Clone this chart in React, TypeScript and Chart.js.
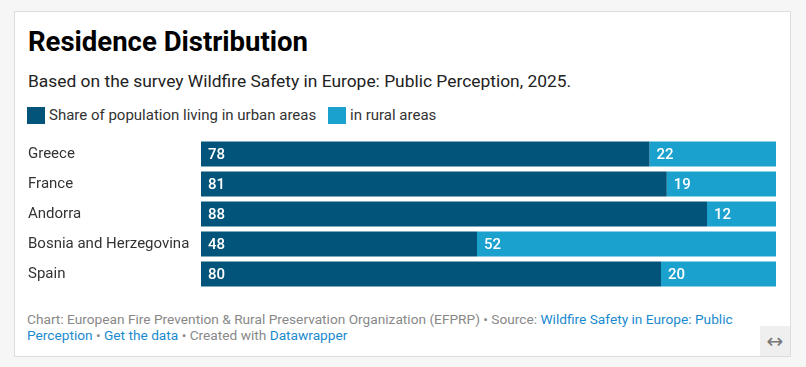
import React, { useEffect, useRef } from "react";
import { Chart, registerables } from "chart.js";

Chart.register(...registerables);

const categories = ["Greece", "France", "Andorra", "Bosnia and Herzegovina", "Spain"];
const urban = [78, 81, 88, 48, 80];
const rural = [22, 19, 12, 52, 20];
const seriesNames = ["Share of population living in urban areas", "in rural areas"];
const colors = ["#03547a", "#1aa1ce"];

const FONT = "Roboto, 'Noto Sans', sans-serif";

const valueLabels = {
  id: "valueLabels",
  afterDatasetsDraw(chart: any) {
    const ctx = chart.ctx;
    ctx.save();
    ctx.font = `500 15px ${FONT}`;
    ctx.fillStyle = "#ffffff";
    ctx.textBaseline = "middle";
    ctx.textAlign = "left";
    chart.data.datasets.forEach((ds: any, di: number) => {
      const meta = chart.getDatasetMeta(di);
      meta.data.forEach((el: any, i: number) => {
        const start = Math.min(el.base, el.x);
        ctx.fillText(String(ds.data[i]), start + 7, el.y + 1);
      });
    });
    ctx.restore();
  },
};

function BarChart() {
  const ref = useRef<HTMLCanvasElement | null>(null);
  useEffect(() => {
    if (!ref.current) return;
    const chart = new Chart(ref.current, {
      type: "bar",
      data: {
        labels: categories,
        datasets: [
          { label: seriesNames[0], data: urban, backgroundColor: colors[0], barPercentage: 25 / 30, categoryPercentage: 1 },
          { label: seriesNames[1], data: rural, backgroundColor: colors[1], barPercentage: 25 / 30, categoryPercentage: 1 },
        ],
      },
      options: {
        indexAxis: "y",
        responsive: false,
        animation: false,
        devicePixelRatio: 1,
        layout: { padding: 0 },
        plugins: { legend: { display: false }, tooltip: { enabled: false } },
        scales: {
          x: { stacked: true, min: 0, max: 100, display: false },
          y: {
            stacked: true,
            grid: { display: false, drawTicks: false },
            border: { display: false },
            ticks: {
              crossAlign: "far",
              color: "#333333",
              font: { family: FONT, size: 15 },
              padding: 0,
            },
            afterFit: (scale: any) => {
              scale.width = 173;
              scale.paddingTop = 0;
              scale.paddingBottom = 0;
            },
          },
        },
      },
      plugins: [valueLabels],
    });
    return () => chart.destroy();
  }, []);
  return (
    <canvas
      ref={ref}
      width={748}
      height={150}
      style={{ position: "absolute", left: 28, top: 139, width: 748, height: 150 }}
    />
  );
}

export default function App() {
  const link = { color: "#1a8acf", textDecoration: "none" };
  return (
    <div
      style={{
        position: "fixed",
        left: 0,
        top: 0,
        width: 806,
        height: 367,
        background: "#f6f6f6",
        fontFamily: FONT,
        overflow: "hidden",
      }}
    >
      <div
        style={{
          position: "absolute",
          left: 14,
          top: 11,
          width: 775,
          height: 344,
          background: "#ffffff",
          border: "1px solid #dddddd",
        }}
      />
      <div
        style={{
          position: "absolute",
          left: 28,
          top: 25,
          fontSize: 27.5,
          fontWeight: 700,
          color: "#000000",
          lineHeight: "34px",
          whiteSpace: "nowrap",
        }}
      >
        Residence Distribution
      </div>
      <div
        style={{
          position: "absolute",
          left: 28,
          top: 70,
          fontSize: 17.4,
          color: "#222222",
          lineHeight: "22px",
          whiteSpace: "nowrap",
        }}
      >
        Based on the survey Wildfire Safety in Europe: Public Perception, 2025.
      </div>
      <div style={{ position: "absolute", left: 27, top: 107, width: 18, height: 17, background: colors[0] }} />
      <div
        style={{ position: "absolute", left: 49, top: 105, fontSize: 15, color: "#333333", lineHeight: "20px", whiteSpace: "nowrap" }}
      >
        {seriesNames[0]}
      </div>
      <div style={{ position: "absolute", left: 328, top: 107, width: 18, height: 17, background: colors[1] }} />
      <div
        style={{ position: "absolute", left: 350, top: 105, fontSize: 15, color: "#333333", lineHeight: "20px", whiteSpace: "nowrap" }}
      >
        {seriesNames[1]}
      </div>
      <BarChart />
      <div
        style={{
          position: "absolute",
          left: 27,
          top: 311,
          fontSize: 13.7,
          color: "#888888",
          lineHeight: "16px",
          whiteSpace: "nowrap",
        }}
      >
        <div>
          Chart: European Fire Prevention &amp; Rural Preservation Organization (EFPRP) • Source:{" "}
          <span style={link}>Wildfire Safety in Europe: Public</span>
        </div>
        <div>
          <span style={link}>Perception</span> • <span style={link}>Get the data</span> • Created with{" "}
          <span style={link}>Datawrapper</span>
        </div>
      </div>
      <div
        style={{
          position: "absolute",
          left: 760,
          top: 326,
          width: 30,
          height: 30,
          background: "#efefef",
          color: "#777777",
          fontFamily: "'DejaVu Sans', sans-serif",
          fontSize: 20,
          lineHeight: "30px",
          textAlign: "center",
        }}
      >
        ↔
      </div>
    </div>
  );
}
